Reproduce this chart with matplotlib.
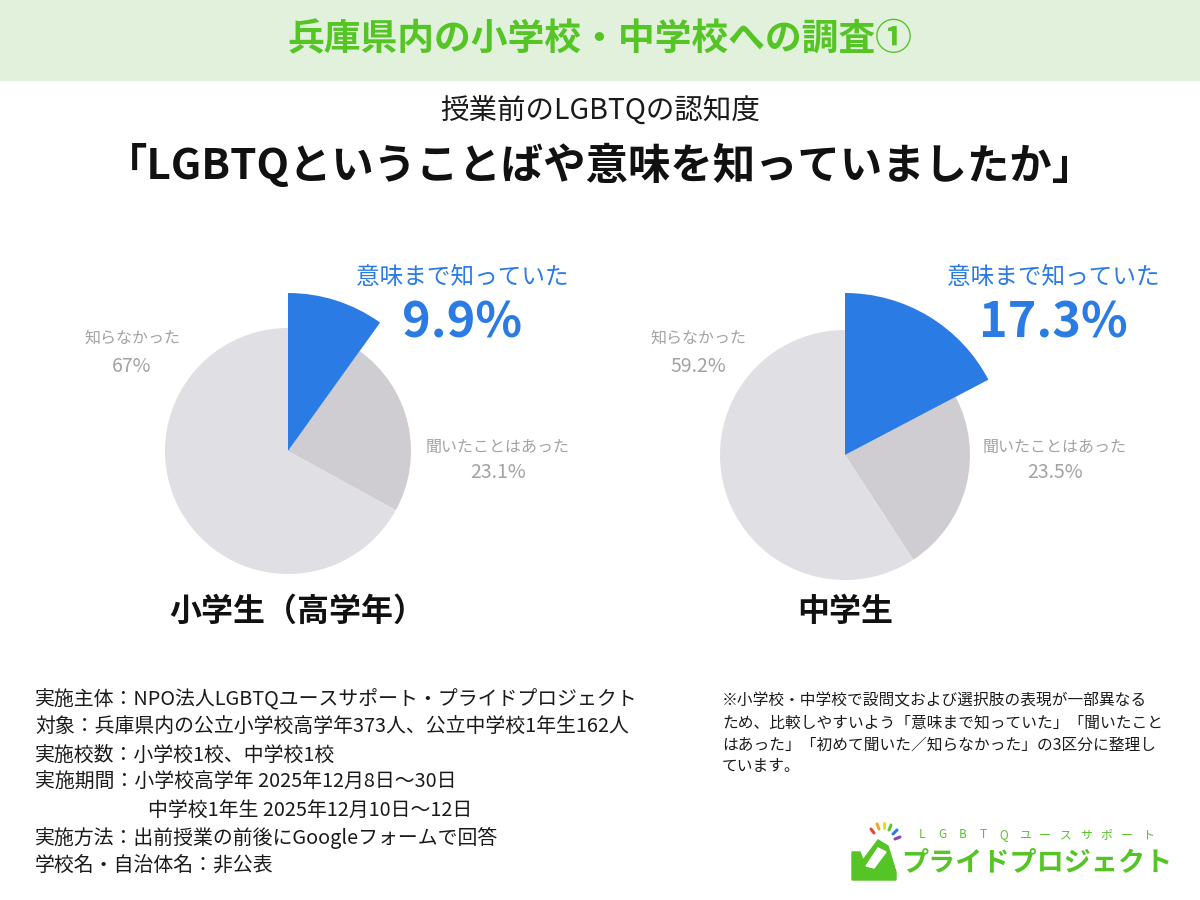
import matplotlib.pyplot as plt
from matplotlib.patches import Rectangle, Polygon

plt.rcParams['font.family'] = ['Noto Sans CJK JP', 'DejaVu Sans']

# ----------------------------------------------------
# Data
# ----------------------------------------------------
categories = ["意味まで知っていた", "聞いたことはあった", "知らなかった"]
elementary = [9.9, 23.1, 67]
junior = [17.3, 23.5, 59.2]
elementary_labels = ["9.9%", "23.1%", "67%"]
junior_labels = ["17.3%", "23.5%", "59.2%"]
groups = ["小学生（高学年）", "中学生"]

header = "兵庫県内の小学校・中学校への調査①"
subtitle = "授業前のLGBTQの認知度"
question = "「LGBTQということばや意味を知っていましたか」"

info_lines = [
    "実施主体：NPO法人LGBTQユースサポート・プライドプロジェクト",
    "対象：兵庫県内の公立小学校高学年373人、公立中学校1年生162人",
    "実施校数：小学校1校、中学校1校",
    "実施期間：小学校高学年 2025年12月8日～30日",
    "中学校1年生 2025年12月10日～12日",
    "実施方法：出前授業の前後にGoogleフォームで回答",
    "学校名・自治体名：非公表",
]
info_indent = [0, 0, 0, 0, 113, 0, 0]
note_lines = [
    "※小学校・中学校で設問文および選択肢の表現が一部異なる",
    "ため、比較しやすいよう「意味まで知っていた」「聞いたこと",
    "はあった」「初めて聞いた／知らなかった」の3区分に整理し",
    "ています。",
]
logo_small = "LGBTQユースサポート"
logo_big = "プライドプロジェクト"

BLUE = "#2b7be4"
GREY_MID = "#cfcdd1"
GREY_LIGHT = "#e0dfe3"
LABEL_GREY = "#a3a3a3"
GREEN = "#55c425"

H = 900


def Y(y):
    return H - y


fig = plt.figure(figsize=(12, 9), dpi=100)
ax = fig.add_axes([0, 0, 1, 1])

# ----------------------------------------------------
# Header and titles
# ----------------------------------------------------
ax.add_patch(Rectangle((0, Y(80)), 1200, 80, color="#e1f1db", zorder=0))
ax.text(600, Y(40), header, ha="center", va="center", fontsize=26.5,
        fontweight="bold", color=GREEN)

ax.text(600, Y(112), subtitle, ha="center", va="center", fontsize=20.5,
        color="#1a1a1a")
ax.text(600, Y(166), question, ha="center", va="center", fontsize=30.5,
        fontweight="bold", color="#111111")


# ----------------------------------------------------
# Pies
# ----------------------------------------------------
def draw_pie(values, labels, cx, cy, r, r_big, lab_pos):
    wedges, _ = ax.pie(values, colors=[BLUE, GREY_MID, GREY_LIGHT],
                       startangle=90, counterclock=False,
                       center=(cx, Y(cy)), radius=r,
                       wedgeprops=dict(linewidth=0))
    wedges[0].set_radius(r_big)
    wedges[0].set_zorder(3)
    bx, by = lab_pos[0]
    ax.text(bx, Y(by), categories[0], ha="center", va="center",
            fontsize=17, color=BLUE)
    ax.text(bx, Y(by + 45), labels[0], ha="center", va="center",
            fontsize=35, fontweight="bold", color=BLUE)
    hx, hy = lab_pos[1]
    ax.text(hx, Y(hy), categories[1], ha="center", va="center",
            fontsize=11.5, color=LABEL_GREY)
    ax.text(hx, Y(hy + 26), labels[1], ha="center", va="center",
            fontsize=14, color=LABEL_GREY)
    nx, ny = lab_pos[2]
    ax.text(nx, Y(ny), categories[2], ha="center", va="center",
            fontsize=11.5, color=LABEL_GREY)
    ax.text(nx, Y(ny + 28), labels[2], ha="center", va="center",
            fontsize=14, color=LABEL_GREY)


draw_pie(elementary, elementary_labels, 288, 451, 123, 158,
         [(462, 278), (498, 447), (132, 338)])
draw_pie(junior, junior_labels, 845, 455, 125, 162,
         [(1053, 278), (1055, 447), (698, 338)])

ax.text(297, Y(612), groups[0], ha="center", va="center", fontsize=23,
        fontweight="bold", color="#111111")
ax.text(845, Y(612), groups[1], ha="center", va="center", fontsize=23,
        fontweight="bold", color="#111111")

# ----------------------------------------------------
# Survey info and note
# ----------------------------------------------------
for i, line in enumerate(info_lines):
    ax.text(35 + info_indent[i], Y(700 + i * 27.5), line, ha="left",
            va="center", fontsize=14.3, color="#1a1a1a")

for i, line in enumerate(note_lines):
    ax.text(722, Y(701 + i * 22), line, ha="left", va="center",
            fontsize=11.3, color="#1a1a1a")

# ----------------------------------------------------
# Logo
# ----------------------------------------------------
ax.add_patch(Polygon([(852, Y(880)), (852, Y(852)), (860, Y(852)),
                      (863, Y(860)), (878, Y(840)), (888, Y(846)),
                      (896, Y(872)), (896, Y(880))],
                     closed=True, color=GREEN))
ax.add_patch(Polygon([(866, Y(866)), (878, Y(848)), (886, Y(852)),
                      (874, Y(868))], closed=True, color="white"))
ray_colors = ["#e8443a", "#f5a623", "#f8d417", "#5dc832", "#2b7be4", "#8e44ad"]
ray_start = [(874, 833), (879, 829), (884, 828), (889, 830), (893, 834), (895, 839)]
ray_end = [(871, 829), (877, 824), (884, 823), (891, 825), (897, 830), (900, 837)]
for c, s, e in zip(ray_colors, ray_start, ray_end):
    ax.plot([s[0], e[0]], [Y(s[1]), Y(e[1])], color=c, linewidth=2.2,
            solid_capstyle="round")
for i, ch in enumerate(logo_small):
    ax.text(922 + i * 20.5, Y(835), ch, ha="center", va="center",
            fontsize=8.5, color=GREEN)
ax.text(1037, Y(862), logo_big, ha="center", va="center",
        fontsize=19.5, fontweight="bold", color=GREEN)

ax.set_xlim(0, 1200)
ax.set_ylim(0, H)
ax.set_aspect("auto")
ax.axis("off")

fig.savefig("out.png", dpi=100, facecolor="white")
